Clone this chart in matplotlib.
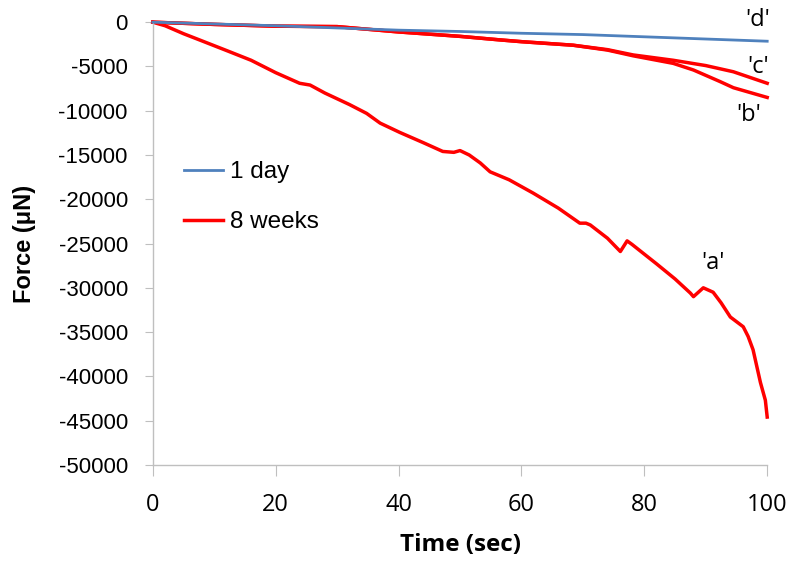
import matplotlib

matplotlib.use("Agg")
import matplotlib.pyplot as plt

plt.rcParams["axes.unicode_minus"] = False

# 'a' - 8 weeks, strongest decline
t_a = [0, 2, 5, 7.7, 12, 16, 20, 23.9, 25.6, 28, 32, 34.8, 37, 40.2, 44, 47.2, 49, 50,
       51.5, 53.3, 54.9, 58, 61.9, 66, 69.5, 70.5, 71.2, 74, 76.1, 77.2, 78, 82, 85,
       87.5, 88, 89.6, 91.2, 92.5, 94, 96.1, 96.9, 97.7, 98.9, 99.7, 100]
f_a = [0, -400, -1300, -2030, -3200, -4300, -5700, -6900, -7100, -8000, -9300, -10300,
       -11400, -12450, -13600, -14600, -14700, -14500, -15000, -15900, -16900, -17800,
       -19300, -21000, -22700, -22700, -22900, -24400, -25900, -24700, -25100, -27300,
       -29000, -30600, -31000, -30000, -30500, -31700, -33300, -34400, -35500, -37000,
       -40700, -42700, -44600]

# 'b' and 'c' - 8 weeks
t_b = [0, 10, 20, 30, 35, 40, 50, 56.5, 60, 68.4, 74, 78.2, 84.7, 88, 92.3, 94.5, 97, 100]
f_b = [0, -250, -450, -500, -800, -1100, -1600, -2000, -2200, -2600, -3150, -3800,
       -4650, -5400, -6700, -7400, -7900, -8500]
t_c = [0, 10, 20, 30, 35, 40, 50, 56.5, 60, 68.4, 74, 78.2, 84.7, 90, 94.5, 100]
f_c = [0, -250, -450, -500, -800, -1100, -1600, -2000, -2200, -2600, -3100, -3700,
       -4300, -4900, -5600, -6900]

# 'd' - 1 day
t_d = [0, 10, 20, 30, 40, 50, 60, 70, 80, 90, 100]
f_d = [0, -200, -400, -650, -900, -1050, -1250, -1400, -1650, -1900, -2150]

curve_labels = ["'a'", "'b'", "'c'", "'d'"]
label_pos = [(91.2, -27200), (97.0, -10500), (98.5, -5100), (98.5, 250)]

red = "#FF0000"
blue = "#4F81BD"
grey = "#BFBFBF"

fig = plt.figure(figsize=(8, 5.69), dpi=100)
ax = fig.add_axes([0.191, 0.183, 0.768, 0.778])

ax.plot(t_d, f_d, color=blue, lw=2.0, label="1 day", clip_on=False, zorder=3)
ax.plot(t_a, f_a, color=red, lw=2.5, label="8 weeks", clip_on=False)
ax.plot(t_b, f_b, color=red, lw=2.5, clip_on=False)
ax.plot(t_c, f_c, color=red, lw=2.5, clip_on=False)

for lab, (x, y) in zip(curve_labels, label_pos):
    ax.text(x, y, lab, fontsize=17, family="Open Sans", ha="center", va="center")

ax.set_xlim(0, 100)
ax.set_ylim(-50000, 0)
ax.set_xticks(range(0, 101, 20))
ax.set_yticks(range(-50000, 1, 5000))

for s in ["top", "right"]:
    ax.spines[s].set_visible(False)
for s in ["left", "bottom"]:
    ax.spines[s].set_color(grey)
    ax.spines[s].set_linewidth(1.0)

ax.tick_params(axis="y", direction="out", length=6, color=grey, pad=12, labelsize=16)
ax.tick_params(axis="x", direction="out", length=8, color=grey, pad=12, labelsize=17)
for lbl in ax.get_yticklabels():
    lbl.set_family("Liberation Sans")
for lbl in ax.get_xticklabels():
    lbl.set_family("Open Sans")

ax.set_xlabel("Time (sec)", fontsize=17.5, fontweight="bold", family="Open Sans", labelpad=12)
ax.set_ylabel("Force (μN)", fontsize=17, fontweight="bold", family="Liberation Sans", labelpad=16)

ax.legend(loc="upper left", bbox_to_anchor=(0.015, 0.735), frameon=False,
          prop={"family": "Liberation Sans", "size": 17.5}, handlelength=1.6,
          handletextpad=0.3, labelspacing=1.15)

fig.savefig("out.png", dpi=100)
